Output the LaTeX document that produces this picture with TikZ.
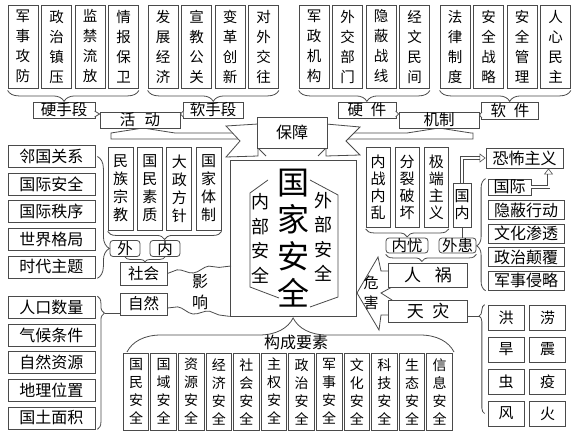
\documentclass[tikz,border=0pt]{standalone}
\usepackage{fontspec}
\setmainfont{Noto Sans CJK SC}
\usepackage{tikz}
\usetikzlibrary{arrows.meta,positioning,decorations.pathreplacing,decorations.pathmorphing}
\definecolor{ln}{HTML}{4a4a4a}
\newcommand{\fsz}[2]{\fontsize{#1}{#2}\selectfont}

\begin{document}
\begin{tikzpicture}[
  x=1pt, y=-1pt,
  line/.style={draw=ln, line width=0.8pt},
  tbox/.style={line, fill=white, minimum width=30pt, minimum height=83pt, inner sep=0pt, align=center, font=\fsz{14.5}{20}},
  vbox/.style={line, fill=white, minimum width=25pt, minimum height=83pt, inner sep=0pt, align=center, font=\fsz{15}{18}},
  ebox/.style={line, fill=white, minimum width=25.5pt, minimum height=77pt, inner sep=0pt, align=center, font=\fsz{14}{18}},
  lbox/.style={line, fill=white, minimum width=87pt, minimum height=22pt, inner sep=0pt, font=\fsz{16}{18}},
  rbox/.style={line, fill=white, minimum width=76pt, minimum height=19pt, inner sep=0pt, font=\fsz{16}{18}},
  tag/.style={line, fill=white, minimum height=16pt, inner sep=0pt, font=\fsz{15.5}{18}},
  rtag/.style={tag, rounded corners=3pt},
  cell/.style={line, fill=white, minimum width=36pt, minimum height=25pt, inner sep=0pt, font=\fsz{15}{18}},
  brc/.style={line, decorate, decoration={brace, amplitude=#1}},
  ptr/.style={line, fill=white},
  darr/.style={draw=ln, line width=0.6pt, double=white, double distance=2pt, -{Triangle[open, length=6pt, width=9pt]}}]

\fill[white] (0,0) rectangle (576,439);
\useasboundingbox (0,0) rectangle (576,439);

\node[tbox] (hard1) at (23,46.5) {军\\事\\攻\\防};
\node[tbox, right=2.7pt of hard1] (hard2) {政\\治\\镇\\压};
\node[tbox, right=2.7pt of hard2] (hard3) {监\\禁\\流\\放};
\node[tbox, right=2.7pt of hard3] (hard4) {情\\报\\保\\卫};
\node[tbox] (soft1) at (163,46.5) {发\\展\\经\\济};
\node[tbox, right=2.7pt of soft1] (soft2) {宣\\教\\公\\关};
\node[tbox, right=2.7pt of soft2] (soft3) {变\\革\\创\\新};
\node[tbox, right=2.7pt of soft3] (soft4) {对\\外\\交\\往};
\node[tbox] (hw1) at (314,46.5) {军\\政\\机\\构};
\node[tbox, right=2.7pt of hw1] (hw2) {外\\交\\部\\门};
\node[tbox, right=2.7pt of hw2] (hw3) {隐\\蔽\\战\\线};
\node[tbox, right=2.7pt of hw3] (hw4) {经\\文\\民\\间};
\node[tbox] (sw1) at (455,46.5) {法\\律\\制\\度};
\node[tbox, right=2.7pt of sw1] (sw2) {安\\全\\战\\略};
\node[tbox, right=2.7pt of sw2] (sw3) {安\\全\\管\\理};
\node[tbox, right=2.7pt of sw3] (sw4) {人\\心\\民\\主};

\draw[line, fill=white] (245,133) -- (175,133) -- (143,128) -- (111,133) -- (111,139) -- (245,139);
\draw[line, fill=white] (340,133) -- (407,133) -- (439,128) -- (471,133) -- (473,133) -- (473,139) -- (340,139);
\draw[line, fill=white] (258,124) -- (226,126) -- (240,141) -- (226,157) -- (258,156) -- cycle;
\draw[line, fill=white] (326,124) -- (360,127) -- (346,141) -- (360,155) -- (326,156) -- cycle;
\draw[line] (258,148) -- (266,156);
\draw[line] (326,148) -- (318,156);
\node[tag, minimum width=70pt, minimum height=31pt, font=\fsz{16}{18}] (baozhang) at (292,132.5) {保障};

\node[tag, minimum width=62pt] (hardm) at (64,110) {硬手段};
\node[tag, minimum width=80pt] (act) at (140,120) {活\hspace{0.6em}动};
\node[tag, minimum width=60pt] (softm) at (213,110) {软手段};
\node[tag, minimum width=58pt] (hwl) at (367,110) {硬\hspace{0.5em}件};
\node[tag, minimum width=80pt] (mech) at (439,120) {机制};
\node[tag, minimum width=57pt, minimum height=17pt] (swl) at (510,111) {软\hspace{0.5em}件};
\draw[ptr] (hardm.east) ++(-0.8,1) -- ++(5,3) -- ++(-5,3);
\draw[ptr] (softm.west) ++(0.8,1) -- ++(-3,3) -- ++(3,3);
\draw[ptr] (hwl.east) ++(-0.8,1) -- ++(3,3) -- ++(-3,3);
\draw[ptr] (swl.west) ++(0.8,1) -- ++(-2.5,3) -- ++(2.5,3);

\draw[brc=11pt, decoration={mirror, aspect=0.43}] ([yshift=-2pt]hard1.south west) -- ([yshift=-2pt]hard4.south east);
\draw[brc=11pt, decoration={mirror, aspect=0.5}] ([yshift=-2pt]soft1.south west) -- ([yshift=-2pt]soft4.south east);
\draw[brc=11pt, decoration={mirror, aspect=0.52}] ([yshift=-2pt]hw1.south west) -- ([yshift=-2pt]hw4.south east);
\draw[brc=11pt, decoration={mirror, aspect=0.534}] ([yshift=-2pt]sw1.south west) -- ([yshift=-2pt]sw4.south east);

\node[lbox] (ext1) at (51.5,156.5) {邻国关系};
\node[lbox, below=4.8pt of ext1] (ext2) {国际安全};
\node[lbox, below=4.8pt of ext2] (ext3) {国际秩序};
\node[lbox, below=4.8pt of ext3] (ext4) {世界格局};
\node[lbox, below=4.8pt of ext4] (ext5) {时代主题};
\node[lbox] (nat1) at (51.5,307.5) {人口数量};
\node[lbox, below=4.8pt of nat1] (nat2) {气候条件};
\node[lbox, below=4.8pt of nat2] (nat3) {自然资源};
\node[lbox, below=4.8pt of nat3] (nat4) {地理位置};
\node[lbox, below=4.8pt of nat4] (nat5) {国土面积};

\node[vbox] (int1) at (120.5,188.5) {民\\族\\宗\\教};
\node[vbox, right=3.6pt of int1] (int2) {国\\民\\素\\质};
\node[vbox, right=3.6pt of int2] (int3) {大\\政\\方\\针};
\node[vbox, right=3.6pt of int3] (int4) {国\\家\\体\\制};
\node[rtag, minimum width=30pt] (wai) at (125,248.5) {外};
\node[rtag, minimum width=30pt] (nei) at (165,248.5) {内};
\node[tag, minimum width=47pt, minimum height=23pt] (shehui) at (143.5,273.5) {社会};
\node[tag, minimum width=47pt, minimum height=22pt] (ziran) at (143.5,304) {自然};

\draw[brc=12pt, decoration={aspect=0.755}] ([xshift=2pt]ext1.east) -- ([xshift=2pt]ext5.south east);
\draw[brc=8pt, decoration={mirror, aspect=0.5}] ([yshift=-1pt]int1.south west) -- ([yshift=-1pt]int4.south east);
\draw[brc=5pt, decoration={mirror, aspect=0.5}] (wai.south) -- (nei.south);
\draw[brc=7pt, decoration={aspect=0.128}] ([xshift=2pt]nat1.north east) -- ([xshift=2pt]nat5.south east);
\coordinate (zrt) at (104.9,313);
\draw[line] (zrt) -- (zrt -| ziran.west);

\node[line, fill=white, minimum width=126pt, minimum height=156pt] (core) at (293,238) {};
\node[font=\fsz{32}{37}, align=center] (gjaq) at (293,238) {国\\家\\安\\全};
\node[font=\fsz{18}{24.5}, align=center] (nbaq) at (260,238.5) {内\\部\\安\\全};
\node[font=\fsz{18}{24.5}, align=center] (wbaq) at (323,237) {外\\部\\安\\全};
\draw[line] (268,180) -- (250,193) -- (250,287) -- (279,298);
\draw[line] (310,180) -- (338,195) -- (338,297) -- (310,307);

\node[font=\fsz{16}{21}, align=center] (yx) at (200,292) {影\\响};
\coordinate (wtop) at (231,266);
\draw[line, decorate, decoration={snake, amplitude=2.5pt, segment length=32pt}] (shehui.east) -- (wtop);
\draw[line, decorate, decoration={snake, amplitude=2.5pt, segment length=32pt}] ([yshift=-4pt]ziran.east) -- (core.south west);

\draw[brc=34pt, decoration={aspect=0.508}] (127,352) -- (454,352);
\node[font=\fsz{16}{18}] (gcys) at (296,342) {构成要素};
\node[ebox] (el1) at (136,391.5) {国\\民\\安\\全};
\node[ebox, right=1.3pt of el1] (el2) {国\\域\\安\\全};
\node[ebox, right=1.3pt of el2] (el3) {资\\源\\安\\全};
\node[ebox, right=1.3pt of el3] (el4) {经\\济\\安\\全};
\node[ebox, right=1.3pt of el4] (el5) {社\\会\\安\\全};
\node[ebox, right=1.3pt of el5] (el6) {主\\权\\安\\全};
\node[ebox, right=1.3pt of el6] (el7) {政\\治\\安\\全};
\node[ebox, right=1.3pt of el7] (el8) {军\\事\\安\\全};
\node[ebox, right=1.3pt of el8] (el9) {文\\化\\安\\全};
\node[ebox, right=1.3pt of el9] (el10) {科\\技\\安\\全};
\node[ebox, right=1.3pt of el10] (el11) {生\\态\\安\\全};
\node[ebox, right=1.3pt of el11] (el12) {信\\息\\安\\全};

\node[vbox, minimum width=24pt, minimum height=80pt, font=\fsz{15}{17}] (trb1) at (378,187) {内\\战\\内\\乱};
\node[vbox, minimum width=24pt, minimum height=80pt, font=\fsz{15}{17}, right=4.4pt of trb1] (trb2) {分\\裂\\破\\坏};
\node[vbox, minimum width=24pt, minimum height=80pt, font=\fsz{15}{17}, right=4.4pt of trb2] (trb3) {极\\端\\主\\义};
\node[vbox, minimum width=18pt, minimum height=44pt, font=\fsz{15}{17}] (guonei) at (462,205) {国\\内};
\node[rtag, minimum width=42pt, minimum height=15pt] (neiyou) at (407,245.5) {内忧};
\node[rtag, minimum width=37pt, minimum height=15pt] (waihuan) at (457.5,245.5) {外患};

\draw[line, fill=white] (357,293) -- (378,257) -- (381,271) -- (392,271) -- (392,287) -- (381,293) -- (392,300) -- (392,315) -- (381,315) -- (379,330) -- cycle;
\node[font=\fsz{15}{20}, align=center] (weihai) at (371,293) {危\\害};
\node[tag, minimum width=79pt, minimum height=24pt, font=\fsz{17}{18}] (renhuo) at (428,275) {人\hspace{0.8em}祸};
\node[tag, minimum width=79pt, minimum height=22pt, font=\fsz{17}{18}] (tianzai) at (428,311) {天\hspace{0.5em}灾};

\node[rbox, minimum width=77pt, minimum height=20pt] (terror) at (524.5,158) {恐怖主义};
\node[rbox, minimum width=43pt, minimum height=16pt] (intl) at (509.5,187) {国际};
\node[rbox] (covert) at (526,210) {隐蔽行动};
\node[rbox, below=3.8pt of covert] (cultur) {文化渗透};
\node[rbox, below=3.8pt of cultur] (subv) {政治颠覆};
\node[rbox, below=3.8pt of subv] (milit) {军事侵略};

\node[cell] (dis1) at (506,317.5) {洪};
\node[cell, right=4.7pt of dis1] (dis2) {涝};
\node[cell, below=6.2pt of dis1] (dis3) {旱};
\node[cell, right=4.7pt of dis3] (dis4) {震};
\node[cell, below=6.2pt of dis3] (dis5) {虫};
\node[cell, right=4.7pt of dis5] (dis6) {疫};
\node[cell, below=6.2pt of dis5] (dis7) {风};
\node[cell, right=4.7pt of dis7] (dis8) {火};

\draw[brc=8pt, decoration={mirror, aspect=0.5}] ([yshift=-1.5pt]trb1.south west) -- ([yshift=-1.5pt]trb3.south east);
\draw[line] (guonei.south) -- (guonei.south |- waihuan.north);
\draw[brc=9pt, decoration={mirror, aspect=0.6}] ([xshift=-2pt]intl.north west) -- ([xshift=-2pt]milit.south west);
\draw[brc=7pt, decoration={mirror, aspect=0.4}] ([yshift=-1pt]neiyou.south west) -- ([yshift=-1pt]waihuan.south east);
\draw[brc=5.5pt, decoration={mirror, aspect=0.105}] ([xshift=-3pt]dis1.north west) -- ([xshift=-3pt]dis7.west);
\coordinate (tzt) at (479,316);
\draw[line] (tzt) -- (tzt -| tianzai.east);

\draw[darr] (guonei.north) |- (terror.west);
\draw[darr] (intl.east) -| ([xshift=24pt]terror.south);
\end{tikzpicture}
\end{document}
